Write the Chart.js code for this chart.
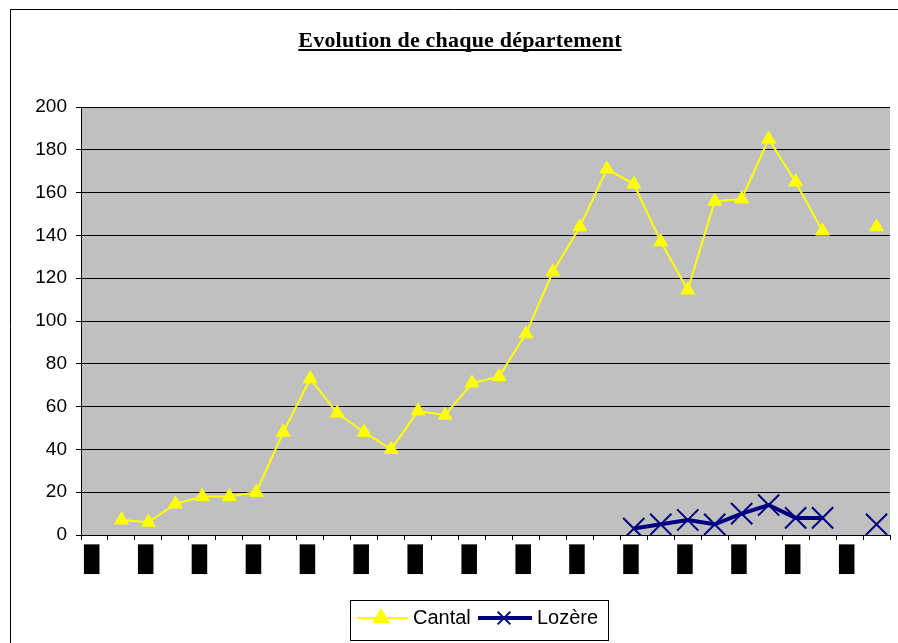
<!DOCTYPE html>
<html>
<head>
<meta charset="utf-8">
<script src="https://cdn.jsdelivr.net/npm/chart.js@4.4.1/dist/chart.umd.min.js"></script>
<style>
  html, body { margin: 0; padding: 0; background: #fff; }
  #wrap { position: relative; width: 898px; height: 643px; }
</style>
</head>
<body>
<div id="wrap"><canvas id="c" width="898" height="643"></canvas></div>
<script>
// labels under the x axis are unreadable black blocks in the source
const tickLabels = [
  "█", "", "█", "", "█", "", "█", "", "█", "",
  "█", "", "█", "", "█", "", "█", "", "█", "",
  "█", "", "█", "", "█", "", "█", "", "█", ""
];
const cantal = [
  null, 7, 6, 14.5, 18, 18, 20, 48, 73, 57,
  48, 40, 58, 56, 71, 74, 94, 123, 144, 171,
  164, 137, 114.5, 156, 157, 185, 165, 142, null, 144
];
const lozere = [
  null, null, null, null, null, null, null, null, null, null,
  null, null, null, null, null, null, null, null, null, null,
  3, 5, 7, 5, 10, 14, 8, 8, null, 5
];
const yTicks = [0, 20, 40, 60, 80, 100, 120, 140, 160, 180, 200];

const YELLOW = "#FFFF00";
const NAVY = "#000080";

const frame = {
  id: "frame",
  beforeDraw(chart) {
    const { ctx, chartArea: a } = chart;
    ctx.save();
    ctx.fillStyle = "#C0C0C0";
    ctx.fillRect(a.left, a.top, a.right - a.left, a.bottom - a.top);
    // outer border
    ctx.strokeStyle = "#000";
    ctx.lineWidth = 1;
    ctx.beginPath();
    ctx.moveTo(10.5, 643);
    ctx.lineTo(10.5, 9.5);
    ctx.lineTo(898, 9.5);
    ctx.stroke();
    ctx.restore();
  },
  afterDraw(chart) {
    const ctx = chart.ctx;
    ctx.save();
    // title
    const title = "Evolution de chaque département";
    ctx.font = "bold 22px 'Liberation Serif'";
    if ("letterSpacing" in ctx) ctx.letterSpacing = "0.2px";
    ctx.fillStyle = "#000";
    ctx.textAlign = "center";
    ctx.textBaseline = "alphabetic";
    ctx.fillText(title, 460, 47);
    const w = ctx.measureText(title).width;
    ctx.fillRect(460 - w / 2, 49, w, 2);
    if ("letterSpacing" in ctx) ctx.letterSpacing = "0px";

    // legend
    ctx.fillStyle = "#fff";
    ctx.fillRect(350, 600, 258, 40);
    ctx.strokeStyle = "#000";
    ctx.lineWidth = 1;
    ctx.strokeRect(350.5, 600.5, 258, 40);
    const ly = 618;
    ctx.strokeStyle = YELLOW;
    ctx.lineWidth = 2;
    ctx.beginPath(); ctx.moveTo(357, ly); ctx.lineTo(408, ly); ctx.stroke();
    ctx.fillStyle = YELLOW;
    Chart.helpers.drawPoint(ctx, { pointStyle: "triangle", radius: 8, borderWidth: 1 }, 381, ly);
    ctx.fillStyle = "#000";
    ctx.font = "20px 'Liberation Sans'";
    ctx.textAlign = "left";
    ctx.textBaseline = "middle";
    ctx.fillText("Cantal", 413, ly);
    ctx.strokeStyle = NAVY;
    ctx.lineWidth = 4;
    ctx.beginPath(); ctx.moveTo(478, ly); ctx.lineTo(532, ly); ctx.stroke();
    ctx.lineWidth = 2;
    Chart.helpers.drawPoint(ctx, { pointStyle: "crossRot", radius: 9, borderWidth: 2 }, 504, ly);
    ctx.fillStyle = "#000";
    ctx.fillText("Lozère", 537, ly);
    ctx.restore();
  }
};

new Chart(document.getElementById("c"), {
  type: "line",
  data: {
    labels: tickLabels,
    datasets: [
      {
        label: "Cantal",
        data: cantal,
        borderColor: YELLOW,
        backgroundColor: YELLOW,
        borderWidth: 2,
        pointStyle: "triangle",
        pointRadius: 8,
        pointBorderWidth: 1,
        pointBackgroundColor: YELLOW,
        pointBorderColor: YELLOW,
        tension: 0,
        spanGaps: false
      },
      {
        label: "Lozère",
        data: lozere,
        borderColor: NAVY,
        backgroundColor: NAVY,
        borderWidth: 4,
        pointStyle: "crossRot",
        pointRadius: 15,
        pointBorderWidth: 2,
        pointBorderColor: NAVY,
        tension: 0,
        spanGaps: false
      }
    ]
  },
  options: {
    responsive: false,
    animation: false,
    layout: { autoPadding: false, padding: { top: 107, right: 8, left: 0, bottom: 0 } },
    plugins: {
      legend: { display: false },
      title: { display: false },
      tooltip: { enabled: false }
    },
    scales: {
      x: {
        offset: true,
        grid: {
          offset: true,
          drawOnChartArea: false,
          drawTicks: true,
          tickLength: 5,
          color: "#000"
        },
        border: { color: "#000", width: 1 },
        ticks: {
          autoSkip: false,
          maxRotation: 0,
          minRotation: 0,
          padding: 6,
          labelOffset: -3,
          color: "#000",
          font: { family: "'DejaVu Sans Mono'", size: 25 }
        },
        afterFit(scale) { scale.height = 108; }
      },
      y: {
        min: 0,
        max: 200,
        afterBuildTicks(scale) { scale.ticks = yTicks.map(v => ({ value: v })); },
        grid: { color: "#000", lineWidth: 1, tickLength: 5, drawTicks: true },
        border: { color: "#000", width: 1 },
        ticks: {
          padding: 9,
          color: "#000",
          font: { family: "'Liberation Sans'", size: 19 }
        },
        afterFit(scale) { scale.width = 81; }
      }
    }
  },
  plugins: [frame]
});
</script>
</body>
</html>
